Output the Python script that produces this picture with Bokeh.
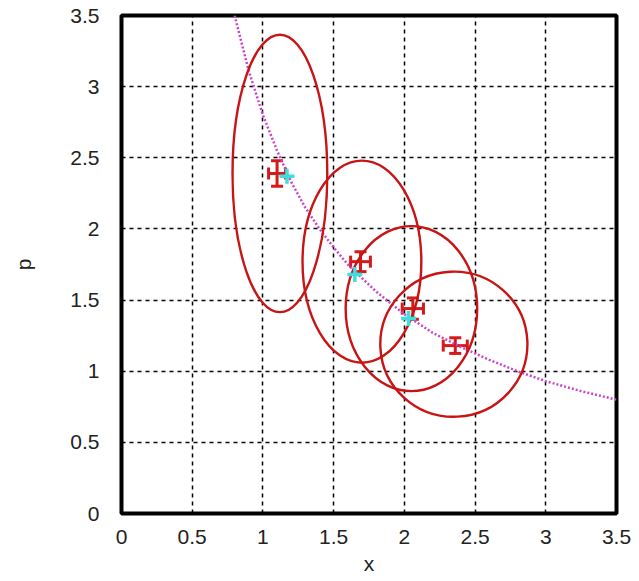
from bokeh.plotting import figure
from bokeh.models import FixedTicker, Whisker, ColumnDataSource, Range1d, TeeHead
from bokeh.embed import file_html
from bokeh.resources import INLINE

# ---- data ----
tick_values = [0, 0.5, 1, 1.5, 2, 2.5, 3, 3.5]
tick_labels = ["0", "0.5", "1", "1.5", "2", "2.5", "3", "3.5"]

# measured points with error bars
meas_x = [1.10, 1.69, 2.06, 2.36]
meas_p = [2.39, 1.77, 1.44, 1.18]
meas_xerr = [0.06, 0.07, 0.075, 0.085]
meas_perr = [0.09, 0.07, 0.075, 0.055]

# cyan model points
model_x = [1.17, 1.65, 2.03]
model_p = [2.37, 1.68, 1.37]

# confidence ellipses: centre, full width (x), full height (p), angle (rad)
ell_x = [1.12, 1.70, 2.05, 2.35]
ell_p = [2.39, 1.77, 1.44, 1.19]
ell_w = [0.67, 0.84, 0.93, 1.04]
ell_h = [1.95, 1.42, 1.16, 1.02]
ell_angle = [0.0, 0.0, 0.0, 0.05]

# dotted magenta curve
curve_x = [0.80, 0.90, 1.00, 1.10, 1.20, 1.30, 1.40, 1.50, 1.60, 1.80, 2.00,
           2.20, 2.40, 2.60, 2.80, 3.00, 3.25, 3.50]
curve_p = [3.50, 3.11, 2.80, 2.55, 2.33, 2.15, 2.00, 1.87, 1.75, 1.56, 1.40,
           1.27, 1.17, 1.08, 1.00, 0.93, 0.86, 0.80]

FONT = "Liberation Sans"

p = figure(output_backend="svg", toolbar_location=None,
           width=639, height=581, frame_width=495, frame_height=498,
           min_border_left=121, min_border_right=23, min_border_top=15,
           min_border_bottom=68,
           x_range=Range1d(0, 3.5), y_range=Range1d(0, 3.5))
p.background_fill_color = "white"
p.border_fill_color = "white"
p.outline_line_color = "black"
p.outline_line_width = 4

for ax in (p.xaxis[0], p.yaxis[0]):
    ax.ticker = FixedTicker(ticks=tick_values)
    ax.major_label_overrides = {v: l for v, l in zip(tick_values, tick_labels)}
    ax.axis_line_color = None
    ax.major_tick_line_color = None
    ax.minor_tick_line_color = None
    ax.major_label_text_font = FONT
    ax.major_label_text_font_size = "21px"
    ax.major_label_text_color = "#222222"
    ax.axis_label_text_font = FONT
    ax.axis_label_text_font_size = "21px"
    ax.axis_label_text_font_style = "normal"
    ax.axis_label_text_color = "#222222"

p.xaxis.axis_label = "x"
p.yaxis.axis_label = "p"
p.xaxis.major_label_standoff = 10
p.yaxis.major_label_standoff = 16
p.xaxis.axis_label_standoff = 5
p.yaxis.axis_label_standoff = 32

for g in (p.xgrid[0], p.ygrid[0]):
    g.ticker = FixedTicker(ticks=tick_values[1:-1])
    g.grid_line_color = "black"
    g.grid_line_dash = "4 4"
    g.grid_line_width = 1.5

# curve
p.line(curve_x, curve_p, line_color="#cc44cc", line_width=2.5, line_dash="2 2")

# ellipses
esrc = ColumnDataSource(dict(x=ell_x, y=ell_p, w=ell_w, h=ell_h, a=ell_angle))
p.ellipse(x="x", y="y", width="w", height="h", angle="a", source=esrc,
          fill_color=None, line_color="#c81414", line_width=2.4)

# error bars
src = ColumnDataSource(dict(
    x=meas_x, y=meas_p,
    xl=[a - e for a, e in zip(meas_x, meas_xerr)],
    xu=[a + e for a, e in zip(meas_x, meas_xerr)],
    yl=[a - e for a, e in zip(meas_p, meas_perr)],
    yu=[a + e for a, e in zip(meas_p, meas_perr)],
))
red = "#d41a1a"
wy = Whisker(source=src, base="x", lower="yl", upper="yu", dimension="height",
             line_color=red, line_width=3,
             upper_head=TeeHead(size=12, line_color=red, line_width=3),
             lower_head=TeeHead(size=12, line_color=red, line_width=3))
wx = Whisker(source=src, base="y", lower="xl", upper="xu", dimension="width",
             line_color=red, line_width=3,
             upper_head=TeeHead(size=12, line_color=red, line_width=3),
             lower_head=TeeHead(size=12, line_color=red, line_width=3))
p.add_layout(wy)
p.add_layout(wx)

# cyan model points
p.scatter(model_x, model_p, marker="cross", size=15, line_color="#3fdede",
          line_width=3.5)

open("out.html", "w").write(file_html(p, INLINE))
